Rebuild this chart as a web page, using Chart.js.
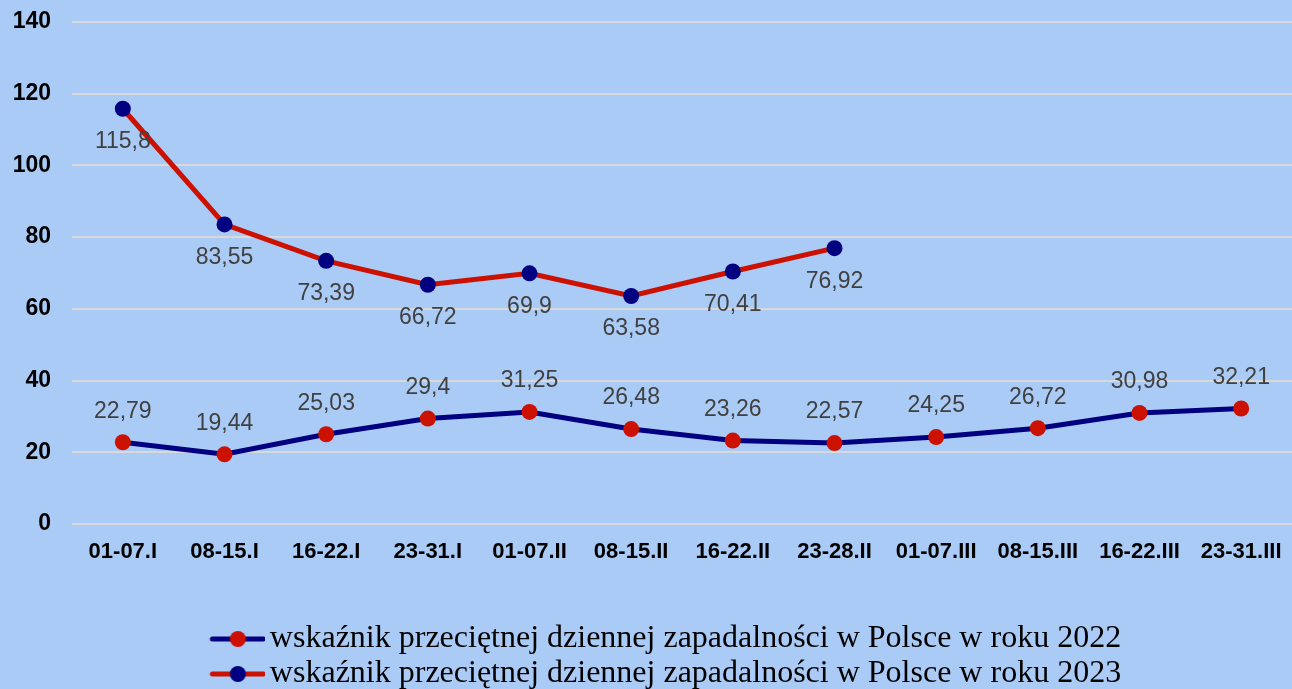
<!DOCTYPE html>
<html>
<head>
<meta charset="utf-8">
<script src="https://cdn.jsdelivr.net/npm/chart.js@4/dist/chart.umd.min.js"></script>
<style>
html,body{margin:0;padding:0;background:#abcbf7;}
#wrap{width:1292px;height:689px;position:relative;}
</style>
</head>
<body>
<div id="wrap"><canvas id="c"></canvas></div>
<script>
const categories = ["01-07.I","08-15.I","16-22.I","23-31.I","01-07.II","08-15.II","16-22.II","23-28.II","01-07.III","08-15.III","16-22.III","23-31.III"];
const values2022 = [22.79,19.44,25.03,29.4,31.25,26.48,23.26,22.57,24.25,26.72,30.98,32.21];
const values2023 = [115.8,83.55,73.39,66.72,69.9,63.58,70.41,76.92];
const yTicks = [0,20,40,60,80,100,120,140];
const label2022 = "wskaźnik przeciętnej dziennej zapadalności w Polsce w roku 2022";
const label2023 = "wskaźnik przeciętnej dziennej zapadalności w Polsce w roku 2023";

const NAVY = "#000080";
const RED = "#cc1100";

function legendIcon(lineColor, dotColor) {
  const c = document.createElement('canvas');
  c.width = 78; c.height = 18;
  const x = c.getContext('2d');
  x.strokeStyle = lineColor; x.lineWidth = 5; x.lineCap = 'round';
  x.beginPath(); x.moveTo(25, 9); x.lineTo(76, 9); x.stroke();
  x.fillStyle = dotColor;
  x.beginPath(); x.arc(50.5, 9, 8, 0, Math.PI * 2); x.fill();
  return c;
}
const legendIcons = [legendIcon(NAVY, RED), legendIcon(RED, NAVY)];

const bgPlugin = {
  id: 'bg',
  beforeDraw(chart) {
    const ctx = chart.ctx;
    ctx.save();
    ctx.fillStyle = '#abcbf7';
    ctx.fillRect(0, 0, chart.width, chart.height);
    ctx.restore();
  }
};

const legendShift = {
  id: 'legendShift',
  afterLayout(chart) {
    if (chart.legend) { chart.legend.left += 5; chart.legend.right += 5; }
  }
};

const labelPlugin = {
  id: 'valueLabels',
  afterDatasetsDraw(chart) {
    const ctx = chart.ctx;
    ctx.save();
    ctx.font = '23px "Liberation Sans", Arial, sans-serif';
    ctx.fillStyle = '#404040';
    ctx.textAlign = 'center';
    ctx.textBaseline = 'middle';
    chart.data.datasets.forEach((ds, di) => {
      const meta = chart.getDatasetMeta(di);
      meta.data.forEach((pt, i) => {
        const v = ds.data[i];
        if (v === null || v === undefined) return;
        const txt = String(v).replace('.', ',');
        const dy = di === 0 ? -31 : 33;
        ctx.fillText(txt, pt.x, pt.y + dy);
      });
    });
    ctx.restore();
  }
};

new Chart(document.getElementById('c'), {
  type: 'line',
  data: {
    labels: categories,
    datasets: [
      {
        label: label2022,
        data: values2022,
        borderColor: NAVY,
        backgroundColor: RED,
        pointBackgroundColor: RED,
        pointBorderColor: RED,
        pointRadius: 8,
        pointBorderWidth: 0,
        borderWidth: 5,
        tension: 0,
        pointStyle: 'circle'
      },
      {
        label: label2023,
        data: values2023,
        borderColor: RED,
        backgroundColor: NAVY,
        pointBackgroundColor: NAVY,
        pointBorderColor: NAVY,
        pointRadius: 8,
        pointBorderWidth: 0,
        borderWidth: 5,
        tension: 0,
        pointStyle: 'circle'
      }
    ]
  },
  options: {
    responsive: true,
    maintainAspectRatio: false,
    animation: false,
    layout: { autoPadding: false, padding: { top: 0, left: 10, right: -8, bottom: -11 } },
    scales: {
      x: {
        offset: true,
        grid: { display: false, drawTicks: false },
        border: { display: false },
        afterFit(scale) { scale.height = 96; scale.paddingLeft = 0; scale.paddingRight = 0; },
        ticks: {
          autoSkip: false, maxRotation: 0, minRotation: 0, padding: 15,
          color: '#000000',
          font: { family: '"Liberation Sans", Arial, sans-serif', size: 22, weight: 'bold' }
        }
      },
      y: {
        min: 0, max: 140,
        afterBuildTicks(scale) { scale.ticks = yTicks.map(v => ({ value: v })); },
        afterFit(scale) { scale.width = 62; scale.paddingTop = 22; scale.paddingBottom = 0; },
        grid: { color: '#d9d9d9', lineWidth: 2, drawTicks: false },
        border: { display: false },
        ticks: {
          padding: 21, color: '#000000',
          font: { family: '"Liberation Sans", Arial, sans-serif', size: 23, weight: 'bold' }
        }
      }
    },
    plugins: {
      legend: {
        position: 'bottom',
        labels: {
          usePointStyle: true,
          pointStyleWidth: 55,
          padding: 3,
          color: '#000000',
          font: { family: '"Liberation Serif", "Times New Roman", serif', size: 32 },
          generateLabels(chart) {
            return chart.data.datasets.map((ds, i) => ({
              text: ds.label,
              pointStyle: legendIcons[i],
              fillStyle: ds.backgroundColor,
              strokeStyle: ds.borderColor,
              lineWidth: 0,
              hidden: false,
              datasetIndex: i,
              fontColor: '#000000'
            }));
          }
        }
      },
      tooltip: { enabled: false }
    }
  },
  plugins: [bgPlugin, legendShift, labelPlugin]
});
</script>
</body>
</html>
